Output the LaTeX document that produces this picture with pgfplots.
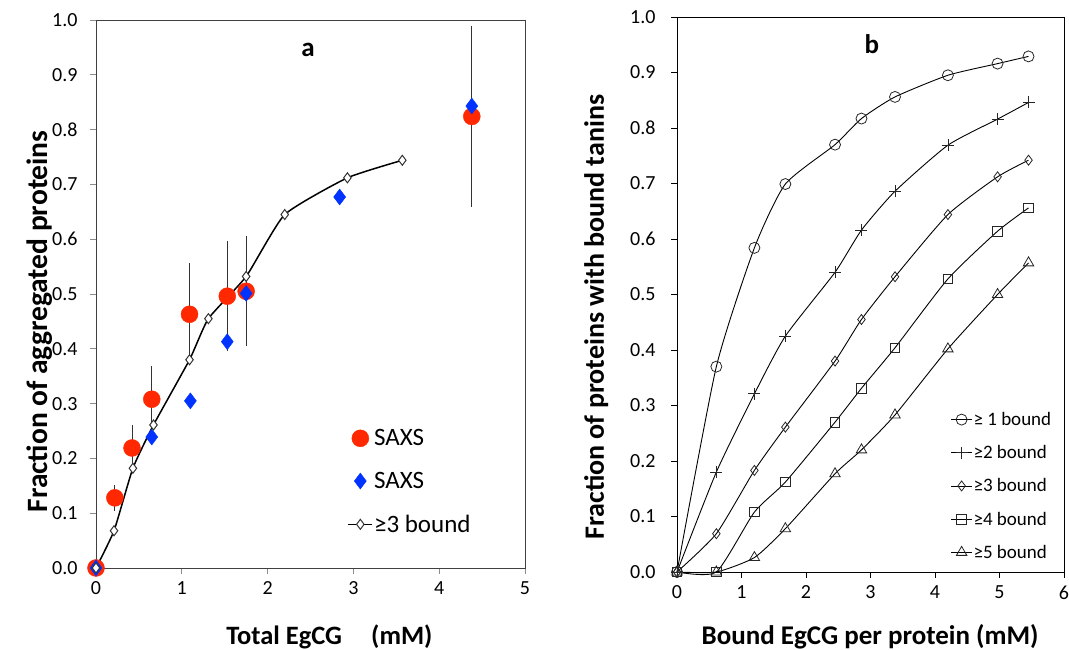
\documentclass[border=0pt]{standalone}
\usepackage{pgfplots}
\pgfplotsset{compat=1.18}
\usepackage{fontspec}
\setmainfont{Carlito}
\definecolor{sred}{RGB}{255,40,0}
\definecolor{sblue}{RGB}{0,51,255}
\definecolor{axgray}{RGB}{140,140,140}

\pgfplotstableread{
x y e
0 0 0
0.22 0.128 0.024
0.42 0.219 0.042
0.65 0.308 0.060
1.09 0.463 0.093
1.53 0.496 0.100
1.75 0.505 0.100
4.38 0.824 0.165
}\saxsred
\pgfplotstableread{
x y
0 0
0.65 0.239
1.10 0.305
1.53 0.413
1.75 0.501
2.84 0.677
4.38 0.843
}\saxsblue
\pgfplotstableread{
x y
0 0
0.21 0.068
0.43 0.182
0.67 0.261
1.09 0.380
1.31 0.455
1.75 0.532
2.20 0.645
2.93 0.712
3.57 0.744
}\threebound

\pgfplotstableread{
x b1 b2 b3 b4 b5
0    0     0     0     0     0
0.61 0.370 0.180 0.069 0     0
1.20 0.584 0.321 0.183 0.108 0.026
1.68 0.699 0.425 0.261 0.162 0.078
2.45 0.770 0.540 0.380 0.270 0.177
2.86 0.817 0.616 0.455 0.331 0.220
3.38 0.856 0.686 0.532 0.404 0.283
4.20 0.895 0.769 0.644 0.528 0.402
4.97 0.916 0.816 0.712 0.614 0.500
5.45 0.929 0.846 0.742 0.656 0.557
}\bound

\begin{document}
\begin{tikzpicture}
\useasboundingbox (0,0) rectangle (1069pt,650pt);
% ---------------- panel a ----------------
\begin{axis}[
  at={(96pt,82pt)}, anchor=south west, scale only axis,
  width=429pt, height=548pt,
  xmin=0, xmax=5, ymin=0, ymax=1,
  xtick={0,1,2,3,4,5},
  ytick={0,0.1,0.2,0.3,0.4,0.5,0.6,0.7,0.8,0.9,1.0},
  yticklabel style={xshift=-9pt, /pgf/number format/fixed, /pgf/number format/fixed zerofill, /pgf/number format/precision=1},
  /pgf/number format/assume math mode=true,
  tick label style={font=\fontsize{20}{23}\selectfont},
  xtick pos=bottom, ytick pos=left, tick align=outside,
  major tick length=6pt,
  tick style={axgray, line width=0.8pt},
  axis line style={black!75, line width=0.8pt},
  xticklabel style={yshift=-4pt},
  xlabel={Total EgCG\hspace{1.1em}(mM)},
  ylabel={Fraction of aggregated proteins},
  xlabel style={font=\fontsize{26.5}{30}\selectfont\bfseries, at={(axis description cs:0.544,-0.126)}, anchor=center},
  ylabel style={font=\fontsize{29.5}{33}\selectfont\bfseries, at={(axis description cs:-0.131,0.45)}, anchor=center},
  clip=false,
  legend style={draw=none, fill=none, at={(axis cs:2.93,0.255)}, anchor=north west,
     font=\fontsize{25}{28}\selectfont, row sep=23pt, inner sep=0pt,
     nodes={inner sep=1pt}},
  legend cell align=left,
  legend image code/.code={\draw[mark repeat=2,mark phase=2] plot coordinates {(0pt,0pt) (12pt,0pt) (24pt,0pt)};},
]
\addplot[only marks, mark=*, mark size=8.5pt, color=sred,
  error bars/.cd, y dir=both, y explicit, error mark=none,
  error bar style={black!80, line width=1pt}]
  table[x=x, y=y, y error=e] {\saxsred};
\addlegendentry{SAXS}
\addplot[only marks, mark=diamond*, mark size=8pt, color=sblue]
  table[x=x, y=y] {\saxsblue};
\addlegendentry{SAXS}
\addplot[black, line width=1.5pt, smooth, tension=0.3, mark=diamond*,
  mark size=5pt, mark options={fill=white, line width=1pt, draw=black!80}]
  table[x=x, y=y] {\threebound};
\addlegendentry{≥3 bound}
\node[font=\fontsize{27}{30}\selectfont\bfseries] at (axis cs:2.47,0.945) {a};
\end{axis}

% ---------------- panel b ----------------
\begin{axis}[
  at={(677pt,78pt)}, anchor=south west, scale only axis,
  width=387pt, height=555pt,
  xmin=0, xmax=6, ymin=0, ymax=1,
  xtick={0,1,2,3,4,5,6},
  ytick={0,0.1,0.2,0.3,0.4,0.5,0.6,0.7,0.8,0.9,1.0},
  yticklabel style={xshift=-12pt, /pgf/number format/fixed, /pgf/number format/fixed zerofill, /pgf/number format/precision=1},
  /pgf/number format/assume math mode=true,
  tick label style={font=\fontsize{20}{23}\selectfont},
  xtick pos=bottom, ytick pos=left, tick align=outside,
  major tick length=6pt,
  tick style={black, line width=0.8pt},
  axis line style={black, line width=0.8pt},
  xticklabel style={yshift=-4pt},
  xlabel={Bound EgCG per protein (mM)},
  ylabel={Fraction of proteins with bound tanins},
  xlabel style={font=\fontsize{27}{30}\selectfont\bfseries, at={(axis description cs:0.499,-0.117)}, anchor=center},
  ylabel style={font=\fontsize{28}{31}\selectfont\bfseries, at={(axis description cs:-0.209,0.459)}, anchor=center},
  clip=false,
  every axis plot/.append style={black, line width=0.9pt, smooth, tension=0.35,
     mark options={fill=white, line width=0.8pt, draw=black!85}},
  legend style={draw=none, fill=none, at={(axis cs:4.24,0.29)}, anchor=north west,
     font=\fontsize{19}{22}\selectfont, row sep=16.5pt, inner sep=0pt,
     nodes={inner sep=1pt}},
  legend cell align=left,
  legend image code/.code={\draw[mark repeat=2,mark phase=2] plot coordinates {(0pt,0pt) (10.5pt,0pt) (21pt,0pt)};},
]
\addplot[mark=o, mark size=5.5pt] table[x=x, y=b1] {\bound};
\addlegendentry{≥ 1 bound}
\addplot[mark=+, mark size=6pt] table[x=x, y=b2] {\bound};
\addlegendentry{≥2 bound}
\addplot[mark=diamond, mark size=5pt] table[x=x, y=b3] {\bound};
\addlegendentry{≥3 bound}
\addplot[mark=square, mark size=4.8pt] table[x=x, y=b4] {\bound};
\addlegendentry{≥4 bound}
\addplot[mark=triangle, mark size=6pt] table[x=x, y=b5] {\bound};
\addlegendentry{≥5 bound}
\node[font=\fontsize{27}{30}\selectfont\bfseries] at (axis cs:3.02,0.951) {b};
\end{axis}
\end{tikzpicture}
\end{document}
